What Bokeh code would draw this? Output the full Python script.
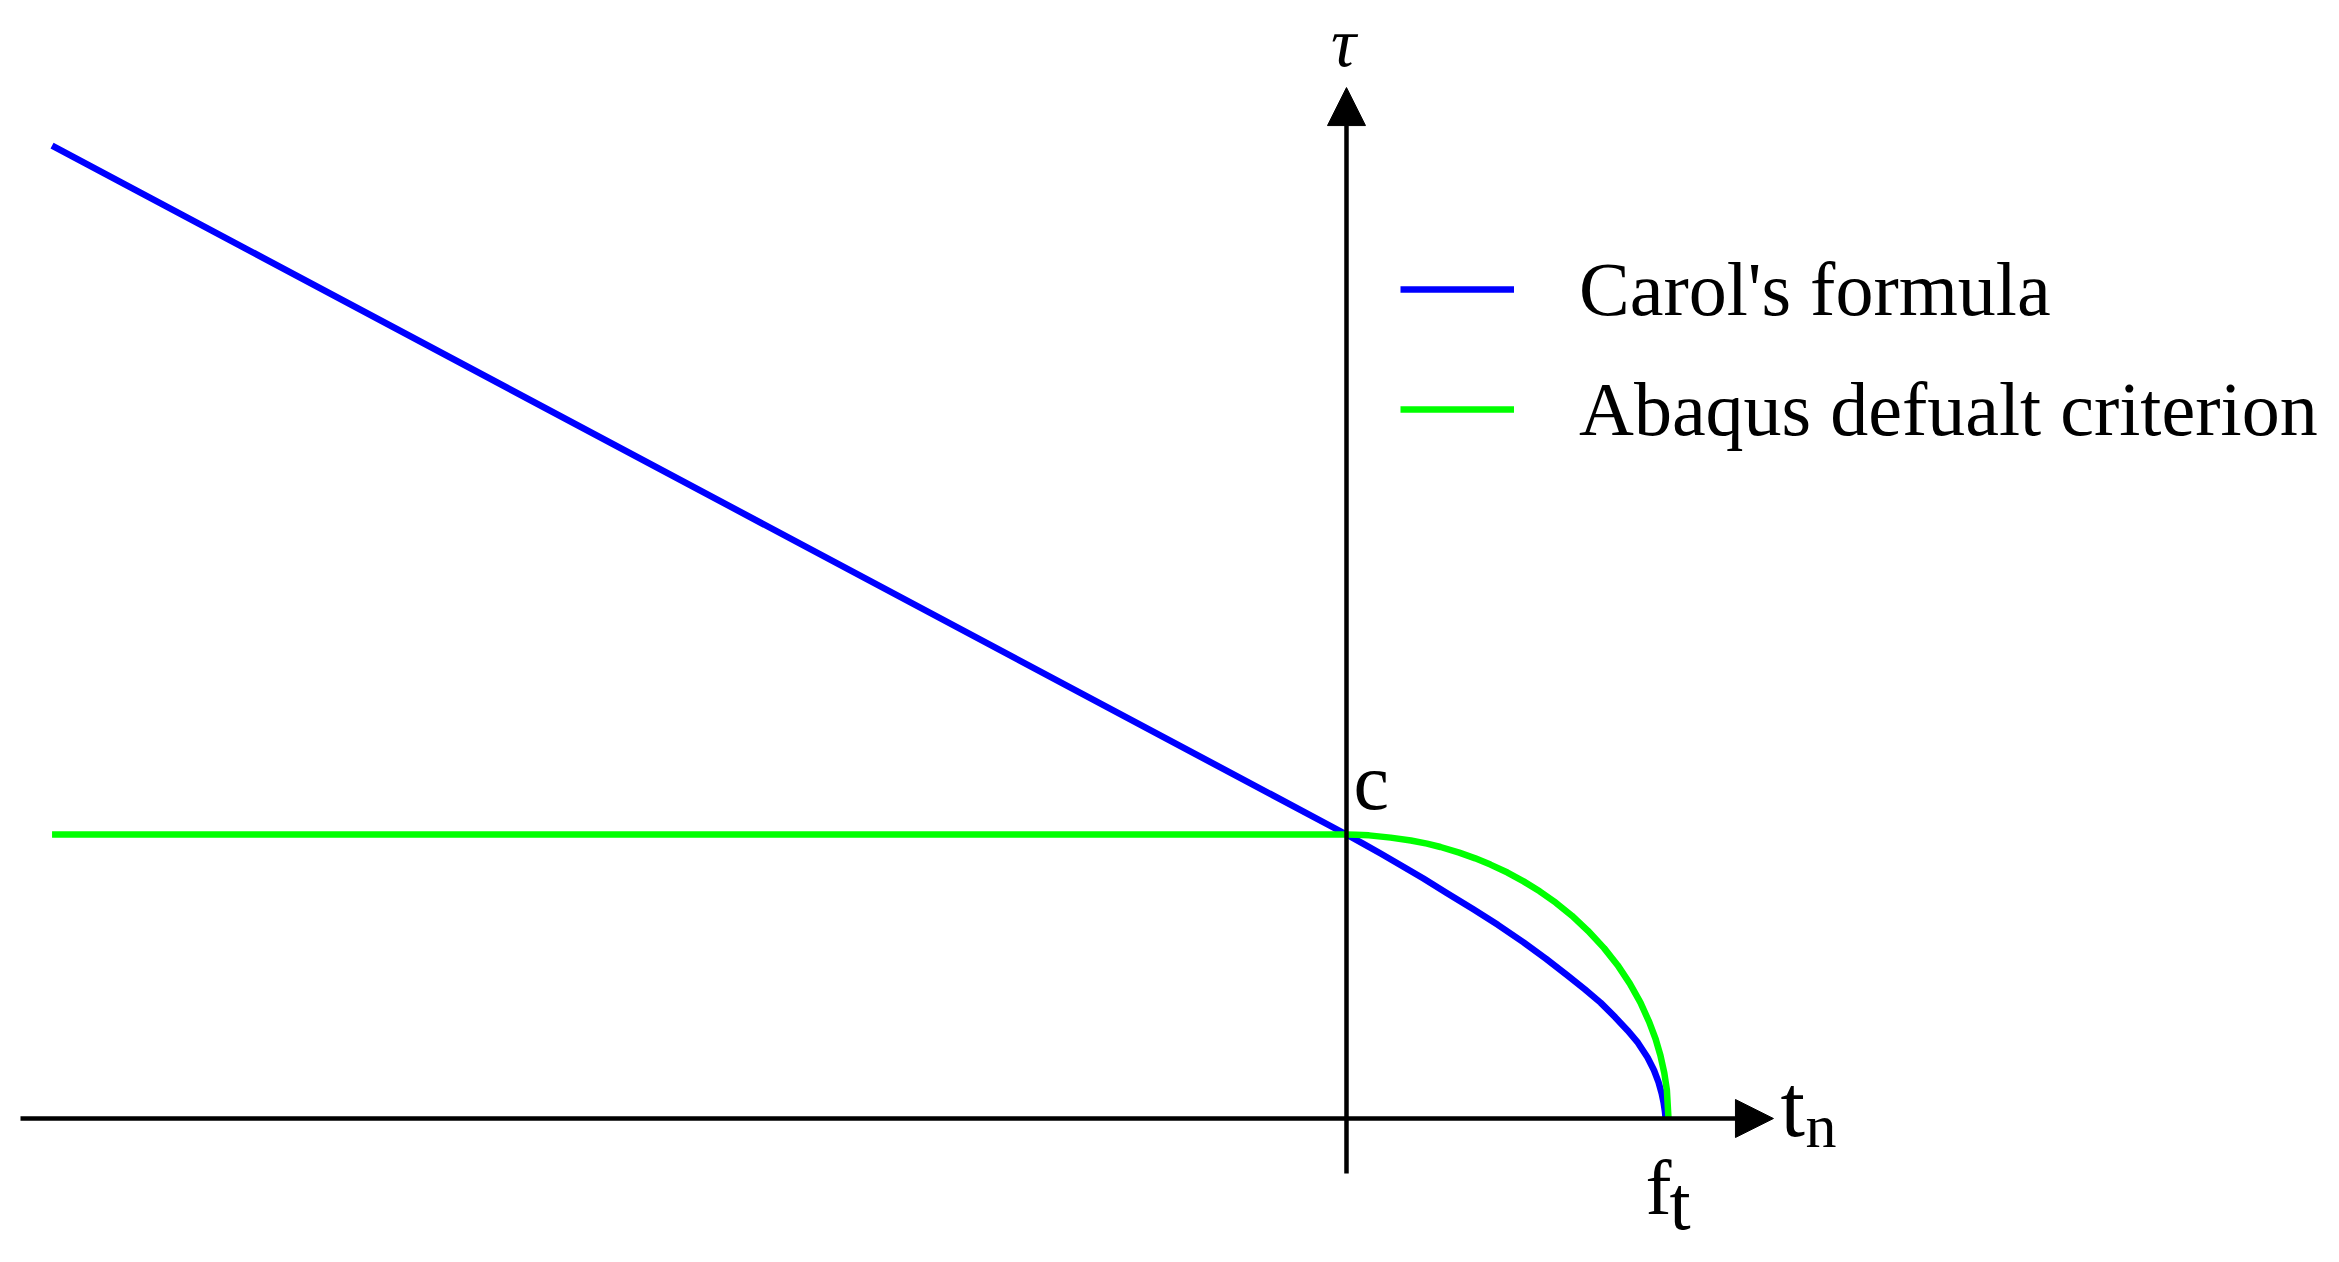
from bokeh.plotting import figure
from bokeh.models import Range1d, Arrow, NormalHead, Label, Legend, LegendItem
from bokeh.embed import file_html
from bokeh.resources import INLINE

# ---- data (t_n in units of f_t, tau in units of c) ----
carol_tn = [-4.02, 0.0, 0.05, 0.106, 0.17, 0.239, 0.31, 0.394, 0.47, 0.550, 0.62,
            0.686, 0.74, 0.789, 0.835, 0.873, 0.905, 0.935, 0.955, 0.969, 0.979,
            0.985, 0.989, 0.991]
carol_tau = [3.426, 1.0, 0.969, 0.933, 0.891, 0.845, 0.795, 0.737, 0.682, 0.620, 0.562,
             0.504, 0.455, 0.408, 0.356, 0.310, 0.267, 0.215, 0.170, 0.128, 0.088,
             0.055, 0.025, 0.0]

abaqus_tn = [-4.02, 0.0, 0.03, 0.07, 0.137, 0.20, 0.25, 0.292, 0.35, 0.40, 0.447, 0.50,
             0.55, 0.60, 0.65, 0.70, 0.75, 0.80, 0.842, 0.88, 0.913, 0.94, 0.96, 0.975,
             0.987, 0.995, 1.0]
abaqus_tau = [1.0, 1.0, 0.9995, 0.997, 0.989, 0.979, 0.968, 0.956, 0.936, 0.916, 0.894,
              0.866, 0.835, 0.800, 0.760, 0.714, 0.661, 0.600, 0.540, 0.475, 0.408,
              0.340, 0.280, 0.222, 0.160, 0.100, 0.0]

series_labels = ["Carol's formula", "Abaqus defualt criterion"]
series_colors = ["#0000ff", "#00ff00"]

FONT = "Liberation Serif"

p = figure(width=2323, height=1262,
           x_range=Range1d(-4.1801, 3.0342), y_range=Range1d(-0.5070, 3.9366),
           output_backend="svg", toolbar_location=None, min_border=0,
           x_axis_location=None, y_axis_location=None)
p.grid.visible = False
p.outline_line_color = None
p.background_fill_color = "white"

# axes with arrow heads
for xs, ys, xe, ye in [(-4.118, 0.0, 1.326, 0.0), (0.0, -0.194, 0.0, 3.630)]:
    p.add_layout(Arrow(end=NormalHead(size=38, fill_color="black", line_color="black", line_width=1),
                       x_start=xs, y_start=ys, x_end=xe, y_end=ye,
                       line_color="black", line_width=4.5))

r1 = p.line(carol_tn, carol_tau, line_color=series_colors[0], line_width=6.5, line_join="round")
r2 = p.line(abaqus_tn, abaqus_tau, line_color=series_colors[1], line_width=6.5, line_join="round")

legend = Legend(items=[LegendItem(label=series_labels[0], renderers=[r1]),
                       LegendItem(label=series_labels[1], renderers=[r2])],
                location=(1400, 808), orientation="vertical",
                label_text_font=FONT, label_text_font_size="76px", label_text_color="black",
                glyph_width=114, glyph_height=90, label_height=90,
                spacing=30, label_standoff=65, padding=0, margin=0,
                border_line_color=None, background_fill_alpha=0)
p.add_layout(legend)

def lab(x, y, t, size, style="normal", align="left"):
    p.add_layout(Label(x=x, y=y, text=t, text_font=FONT, text_font_size=size,
                       text_font_style=style, text_align=align,
                       text_baseline="alphabetic", text_color="black"))

lab(-0.009, 3.790, "τ", "70px", style="italic", align="center")
lab(0.022, 1.186, "c", "80px")
lab(1.348, 0.0425, "t", "88px")
lab(1.4255, -0.028, "n", "62px")
lab(0.9286, -0.243, "f", "78px")
lab(1.003, -0.299, "t", "76px")

open("out.html", "w").write(file_html(p, INLINE))
